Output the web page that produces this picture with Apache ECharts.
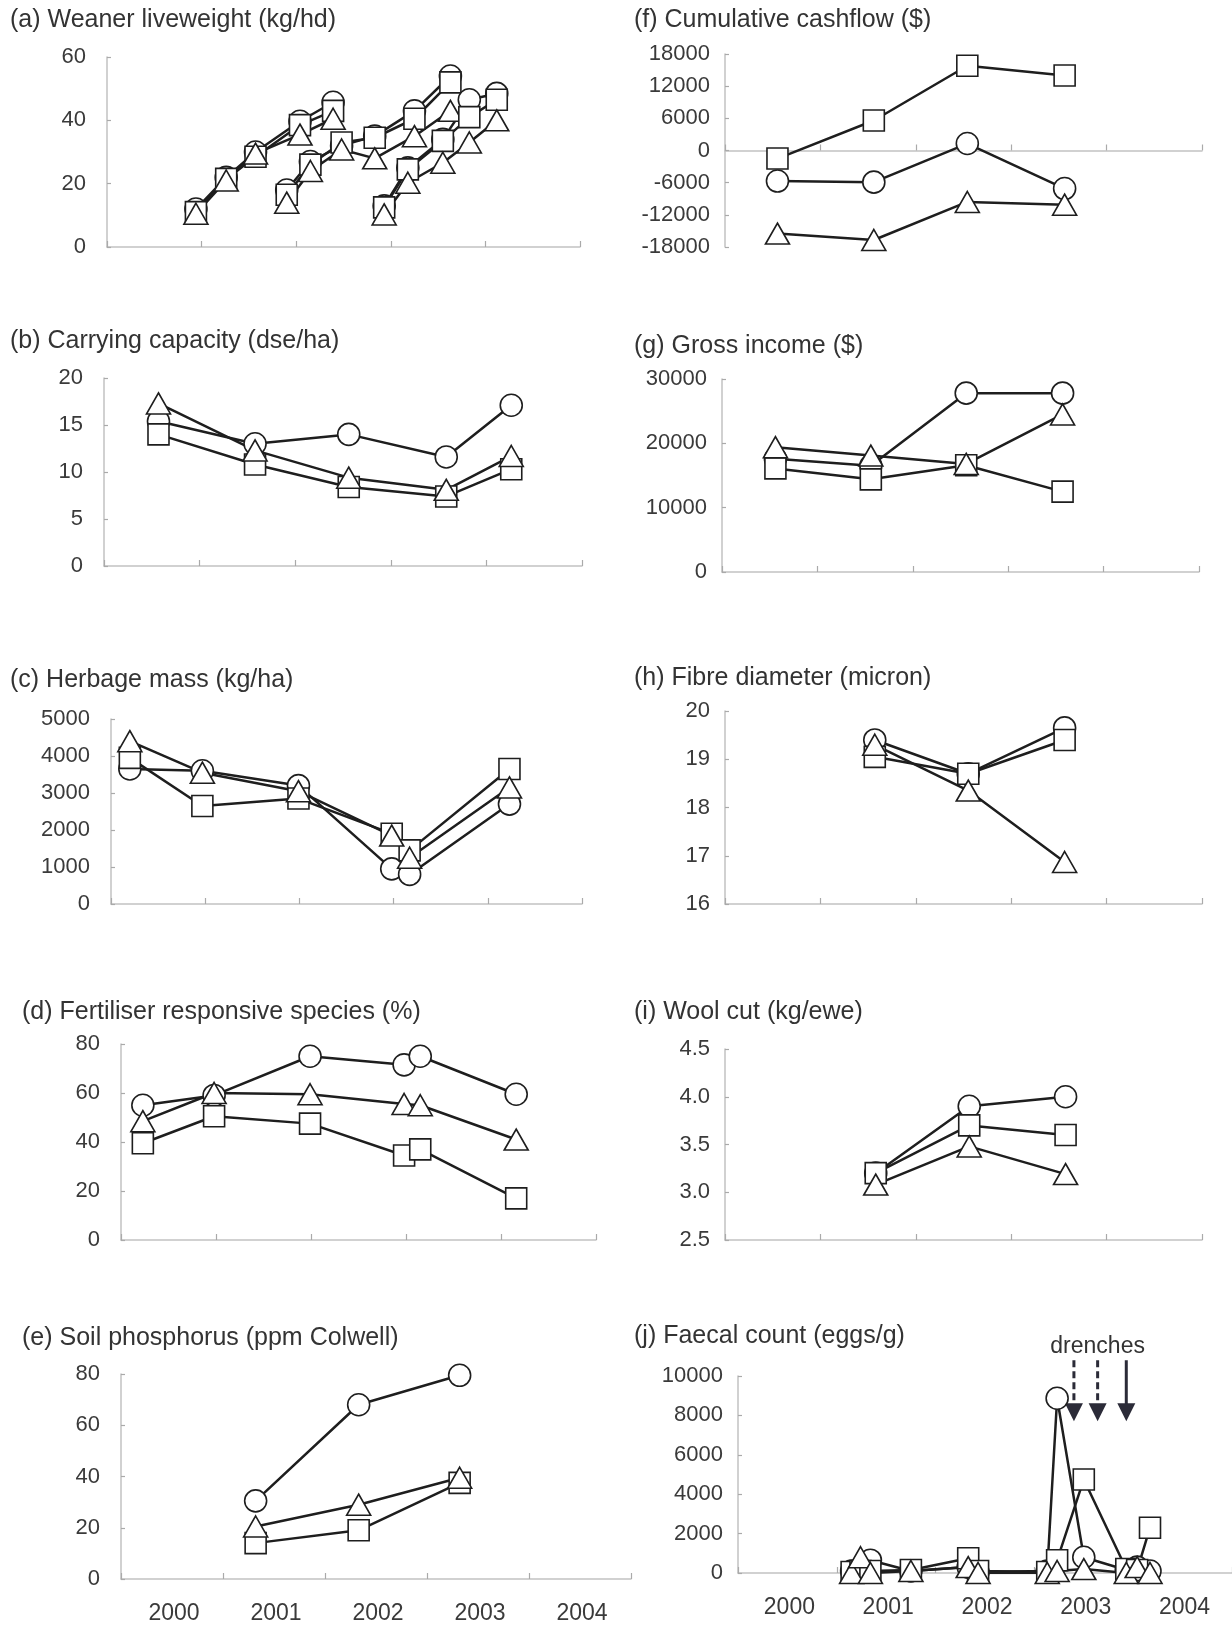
<!DOCTYPE html>
<html><head><meta charset="utf-8">
<script src="https://cdn.jsdelivr.net/npm/echarts@6/dist/echarts.min.js"></script>
<style>html,body{margin:0;padding:0;background:#fff}#c{width:1232px;height:1625px}</style>
</head><body><div id="c"></div><script>
// ---------- data (x = decimal year) ----------
const yearLabels = ['2000','2001','2002','2003','2004'];
// (a) Weaner liveweight – three cohorts
const aX1 = [2000.94, 2001.26, 2001.57, 2002.04, 2002.39];
const aCircle1 = [12, 22, 30, 39.7, 45.7];
const aSquare1 = [11, 21.5, 28.5, 38.5, 43];
const aTriangle1 = [10.5, 21, 29.5, 35.5, 40.5];
const aX2 = [2001.90, 2002.15, 2002.48, 2002.83, 2003.25, 2003.63];
const aCircle2 = [18, 27, 32, 35, 43, 54];
const aSquare2 = [16.5, 26, 33, 34.5, 40.5, 52];
const aTriangle2 = [14, 24, 30.8, 28, 35, 43];
const aX3 = [2002.93, 2003.18, 2003.55, 2003.83, 2004.12];
const aCircle3 = [13, 25, 34, 46.5, 48.5];
const aSquare3 = [12.5, 24.5, 33.5, 41, 46.5];
const aTriangle3 = [10.3, 20.3, 26.6, 33, 40];
// (b) Carrying capacity
const bX = [2000.57, 2001.58, 2002.56, 2003.58, 2004.26];
const bCircle = [15.4, 13, 14, 11.6, 17.1];
const bSquare = [14, 10.8, 8.4, 7.4, 10.3];
const bTriangle = [17.3, 12.3, 9.4, 8.1, 11.7];
// (c) Herbage mass
const cX = [2000.2, 2000.97, 2001.99, 2002.98, 2003.17, 2004.23];
const cCircle = [3650, 3600, 3200, 950, 800, 2700];
const cSquare = [3950, 2650, 2850, 1900, 1450, 3650];
const cTriangle = [4400, 3550, 3050, 1850, 1250, 3150];
// (d) Fertiliser responsive species
const dX = [2000.23, 2000.98, 2001.99, 2002.98, 2003.15, 2004.16];
const dCircle = [55, 59, 75, 71.5, 75, 59.5];
const dSquare = [39.5, 50.5, 47.5, 34.5, 37, 17];
const dTriangle = [48.5, 60, 59.5, 55.5, 55, 41];
// (e) Soil phosphorus
const eX = [2001.32, 2002.33, 2003.32];
const eCircle = [30.5, 68, 79.5];
const eSquare = [14, 19, 37.5];
const eTriangle = [20.5, 29, 39.5];
// (f) Cumulative cashflow
const fX = [2000.55, 2001.56, 2002.54, 2003.56];
const fCircle = [-5700, -5900, 1300, -7100];
const fSquare = [-1500, 5600, 15800, 14000];
const fTriangle = [-15500, -16700, -9600, -10100];
// (g) Gross income
const gX = [2000.56, 2001.56, 2002.56, 2003.57];
const gCircle = [17600, 16500, 27800, 27800];
const gSquare = [16100, 14400, 16600, 12500];
const gTriangle = [19400, 18100, 16800, 24500];
// (h) Fibre diameter
const hX = [2001.57, 2002.55, 2003.56];
const hCircle = [19.4, 18.7, 19.65];
const hSquare = [19.05, 18.7, 19.4];
const hTriangle = [19.3, 18.35, 16.87];
// (i) Wool cut
const iX = [2001.58, 2002.56, 2003.57];
const iCircle = [3.2, 3.9, 4.0];
const iSquare = [3.2, 3.7, 3.6];
const iTriangle = [3.08, 3.48, 3.19];
// (j) Faecal count
const jX = [2001.15, 2001.24, 2001.34, 2001.75, 2002.33, 2002.43, 2003.13, 2003.23, 2003.50, 2003.93, 2004.04, 2004.17];
const jCircle = [100, 200, 650, 100, 300, 50, 100, 8870, 800, 150, 300, 100];
const jSquare = [50, 100, 100, 150, 750, 100, 50, 650, 4750, 200, 150, 2300];
const jTriangle = [0, 800, 0, 100, 300, 0, 0, 100, 200, 0, 300, 0];
// drench arrows (year, dashed?) from 10800 down to 7800 eggs/g
const drenchX = [2003.40, 2003.64, 2003.93];
const drenchDashed = [true, true, false];
const drenchTop = 10800, drenchTip = 7700, drenchTextY = 11500;

// ---------- layout ----------
const FONT = 'Liberation Sans, Arial, sans-serif';
const TFS = 25, YFS = 22, XFS = 23;
const panels = [
  {t:'(a) Weaner liveweight (kg/hd)', tl:10, tt:8, g:{left:107, top:57, width:473, height:190}, min:0, max:60, iv:20},
  {t:'(b) Carrying capacity (dse/ha)', tl:10, tt:329, g:{left:104, top:378, width:478, height:188}, min:0, max:20, iv:5},
  {t:'(c) Herbage mass (kg/ha)', tl:10, tt:668, g:{left:111, top:719, width:471, height:185}, min:0, max:5000, iv:1000},
  {t:'(d) Fertiliser responsive species (%)', tl:22, tt:1000, g:{left:121, top:1044, width:475, height:196}, min:0, max:80, iv:20},
  {t:'(e) Soil phosphorus (ppm Colwell)', tl:22, tt:1326, g:{left:121, top:1374, width:510, height:205}, min:0, max:80, iv:20, xl:true},
  {t:'(f) Cumulative cashflow ($)', tl:634, tt:8, g:{left:725, top:54, width:477, height:193}, min:-18000, max:18000, iv:6000, rm:true},
  {t:'(g) Gross income ($)', tl:634, tt:334, g:{left:722, top:379, width:477, height:193}, min:0, max:30000, iv:10000, rm:true},
  {t:'(h) Fibre diameter (micron)', tl:634, tt:666, g:{left:725, top:711, width:477, height:193}, min:16, max:20, iv:1, rm:true},
  {t:'(i) Wool cut (kg/ewe)', tl:634, tt:1000, g:{left:725, top:1049, width:477, height:191}, min:2.5, max:4.5, iv:0.5, rm:true, fix:1},
  {t:'(j) Faecal count (eggs/g)', tl:634, tt:1324, g:{left:738, top:1376, width:497, height:197}, min:0, max:10000, iv:2000, rm:true, xl:true}
];

const INK = '#1e1e1e', AX = '#c2c2c2', TXT = '#3a3a3a';
const titles = [], grids = [], xAxes = [], yAxes = [];
panels.forEach((p, k) => {
  titles.push({text:p.t, left:p.tl, top:p.tt, padding:0,
    textStyle:{fontSize:TFS, fontWeight:'normal', color:'#333', fontFamily:FONT}});
  grids.push(Object.assign({containLabel:false}, p.g));
  const xa = {type:'value', gridIndex:k, min:2000, max:2005, interval:1,
    axisLine:{show:true, lineStyle:{color:AX, width:1.5}},
    axisTick:{show:true, inside:true, length:6, lineStyle:{color:'#aaa', width:1.2}},
    axisLabel:{show:false}, splitLine:{show:false}};
  if (p.xl) {
    xa.axisLabel = {show:true, customValues:yearLabels.map(s => +s + 0.52),
      formatter: v => String(Math.floor(v)), fontSize:XFS, color:TXT, fontFamily:FONT, margin:23};
    xa.axisTick.customValues = [2000, 2001, 2002, 2003, 2004, 2005];
  }
  xAxes.push(xa);
  yAxes.push({type:'value', gridIndex:k, min:p.min, max:p.max, interval:p.iv,
    axisLine:{show:true, lineStyle:{color:AX, width:1.5}},
    axisTick:{show:true, inside:true, length:4, lineStyle:{color:'#aaa', width:1.2}},
    axisLabel:{fontSize:YFS, color:TXT, fontFamily:FONT, margin:p.rm ? 15 : 21,
      formatter: v => p.fix ? v.toFixed(p.fix) : String(v)},
    splitLine:{show:false}});
});

const SHAPES = {
  circle:{symbol:'circle', size:22},
  square:{symbol:'rect', size:21},
  triangle:{symbol:'triangle', size:[24, 21]}
};
function mk(k, xs, ys, shape) {
  const s = SHAPES[shape];
  return {
    type:'line', xAxisIndex:k, yAxisIndex:k, data:xs.map((x, i) => [x, ys[i]]),
    symbol:s.symbol, symbolSize:s.size, showSymbol:true, animation:false, silent:true,
    lineStyle:{color:INK, width:2.5},
    itemStyle:{color:'#fff', borderColor:INK, borderWidth:1.6}
  };
}
const series = [];
function trio(k, xs, c, s, t) {
  series.push(mk(k, xs, c, 'circle'));
  series.push(mk(k, xs, s, 'square'));
  series.push(mk(k, xs, t, 'triangle'));
}
trio(0, aX1, aCircle1, aSquare1, aTriangle1);
trio(0, aX2, aCircle2, aSquare2, aTriangle2);
trio(0, aX3, aCircle3, aSquare3, aTriangle3);
trio(1, bX, bCircle, bSquare, bTriangle);
trio(2, cX, cCircle, cSquare, cTriangle);
trio(3, dX, dCircle, dSquare, dTriangle);
trio(4, eX, eCircle, eSquare, eTriangle);
trio(5, fX, fCircle, fSquare, fTriangle);
trio(6, gX, gCircle, gSquare, gTriangle);
trio(7, hX, hCircle, hSquare, hTriangle);
trio(8, iX, iCircle, iSquare, iTriangle);
trio(9, jX, jCircle, jSquare, jTriangle);

const chart = echarts.init(document.getElementById('c'), null, {renderer:'canvas'});
chart.setOption({
  backgroundColor:'#fff', animation:false,
  title:titles, grid:grids, xAxis:xAxes, yAxis:yAxes, series:series
});

// drench annotation, positioned through panel (j)'s scales
const ARROW = '#2b2b38';
const gfx = [];
drenchX.forEach((x, i) => {
  const p1 = chart.convertToPixel({gridIndex:9}, [x, drenchTop]);
  const p2 = chart.convertToPixel({gridIndex:9}, [x, drenchTip]);
  const headH = 18, headW = 9;
  gfx.push({type:'line', silent:true,
    shape:{x1:p1[0], y1:p1[1], x2:p2[0], y2:p2[1] - headH + 1},
    style:{stroke:ARROW, lineWidth:3, lineDash: drenchDashed[i] ? [7, 4] : null}});
  gfx.push({type:'polygon', silent:true,
    shape:{points:[[p2[0] - headW, p2[1] - headH], [p2[0] + headW, p2[1] - headH], [p2[0], p2[1]]]},
    style:{fill:ARROW}});
});
const pt = chart.convertToPixel({gridIndex:9}, [drenchX[1], drenchTextY]);
gfx.push({type:'text', silent:true, x:pt[0], y:pt[1],
  style:{text:'drenches', fontSize:TFS - 2, fill:'#333', fontFamily:FONT, align:'center', verticalAlign:'middle'}});
chart.setOption({graphic:gfx});
</script></body></html>
